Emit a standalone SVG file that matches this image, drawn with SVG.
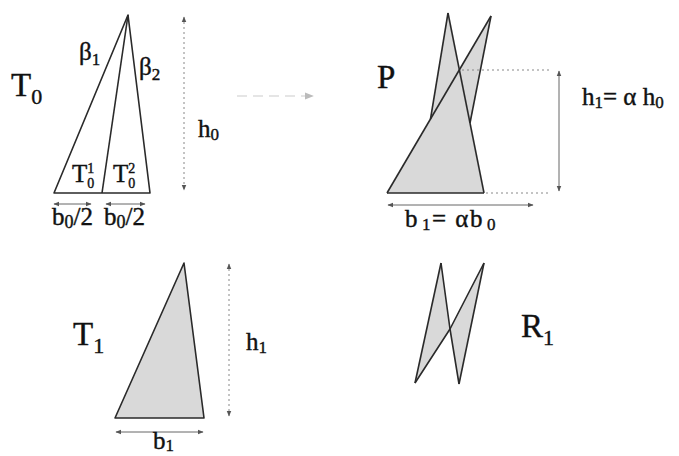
<svg xmlns="http://www.w3.org/2000/svg" width="679" height="456" viewBox="0 0 679 456">
<defs>
<marker id="ah" viewBox="0 0 10 10" refX="9" refY="5" markerWidth="6" markerHeight="6" orient="auto-start-reverse"><path d="M0,1 L10,5 L0,9 z" fill="#555"/></marker>
<marker id="ahf" viewBox="0 0 10 10" refX="9" refY="5" markerWidth="6" markerHeight="6" orient="auto-start-reverse"><path d="M0,1 L10,5 L0,9 z" fill="#bbb"/></marker>
</defs>
<style>
.edge{fill:none;stroke:#2a2a2a;stroke-width:1.6;stroke-linejoin:round}
.shade{fill:#d9d9d9;stroke:none}
.dim{fill:none;stroke:#666;stroke-width:1}
.dot{fill:none;stroke:#888;stroke-width:1;stroke-dasharray:2 3}
text{font-family:"Liberation Serif",serif;fill:#111;stroke:#111;stroke-width:0.4}
.big{font-size:33px}
.mid{font-size:25px}
.sm{font-size:25px}
</style>
<rect width="679" height="456" fill="#fff"/>

<g id="T0">
<polygon class="edge" points="54,193 128,15 150,193"/>
<line class="edge" x1="128" y1="15" x2="102" y2="193"/>
<text class="big" x="11" y="96">T<tspan font-size="22" dy="8">0</tspan></text>
<text class="mid" x="79" y="60">β<tspan font-size="17" dy="5">1</tspan></text>
<text class="mid" x="139" y="75">β<tspan font-size="17" dy="5">2</tspan></text>
<text class="mid" x="72" y="182">T<tspan font-size="14" dy="-9">1</tspan><tspan font-size="14" dx="-7" dy="15">0</tspan></text>
<text class="mid" x="113" y="182">T<tspan font-size="14" dy="-9">2</tspan><tspan font-size="14" dx="-7" dy="15">0</tspan></text>
<line class="dim" x1="54" y1="204" x2="91" y2="204" marker-start="url(#ah)" marker-end="url(#ah)"/>
<line class="dim" x1="106" y1="204" x2="145" y2="204" marker-start="url(#ah)" marker-end="url(#ah)"/>
<text class="sm" x="52" y="225">b<tspan font-size="18" dy="3">0</tspan><tspan dy="-3">/2</tspan></text>
<text class="sm" x="104" y="225">b<tspan font-size="18" dy="3">0</tspan><tspan dy="-3">/2</tspan></text>
<line class="dot" x1="184" y1="17" x2="184" y2="190" marker-start="url(#ah)" marker-end="url(#ah)"/>
<text class="sm" x="198" y="137">h<tspan font-size="17" dy="3">0</tspan></text>
</g>

<g id="arrow-mid">
<line x1="237" y1="96" x2="313" y2="96" stroke="#ddd" stroke-width="1.5" stroke-dasharray="10 6" marker-end="url(#ahf)"/>
</g>

<g id="P">
<polygon class="shade" points="387,193 430.5,119 448,13 459.4,69.8 491,16 470,123 484,193"/>
<line class="edge" x1="387" y1="193" x2="491" y2="16"/>
<line class="edge" x1="448" y1="13" x2="484" y2="193"/>
<line class="edge" x1="430.5" y1="119" x2="448" y2="13"/>
<line class="edge" x1="470" y1="123" x2="491" y2="16"/>
<line class="edge" x1="387" y1="193" x2="484" y2="193"/>
<text class="big" x="377" y="88">P</text>
<line class="dot" x1="462" y1="70" x2="550" y2="70"/>
<line class="dot" x1="486" y1="193" x2="550" y2="193"/>
<line class="dim" x1="559" y1="71" x2="559" y2="191" marker-start="url(#ah)" marker-end="url(#ah)"/>
<text class="sm" x="582" y="105">h<tspan font-size="17" dy="3">1</tspan><tspan dy="-3">= α h</tspan><tspan font-size="17" dy="3">0</tspan></text>
<line class="dim" x1="388" y1="205" x2="533" y2="205" marker-start="url(#ah)" marker-end="url(#ah)"/>
<text class="sm" x="405" y="227" letter-spacing="1.5">b<tspan font-size="17" dx="3" dy="3">1</tspan><tspan dy="-3">= αb</tspan><tspan font-size="17" dx="3" dy="3">0</tspan></text>
</g>

<g id="T1">
<polygon class="shade" points="115,418 184,263 204,418"/>
<polygon class="edge" points="115,418 184,263 204,418"/>
<text class="big" x="73" y="345">T<tspan font-size="22" dy="8">1</tspan></text>
<line class="dot" x1="229" y1="264" x2="229" y2="416" marker-start="url(#ah)" marker-end="url(#ah)"/>
<text class="sm" x="246" y="350">h<tspan font-size="17" dy="3">1</tspan></text>
<line class="dim" x1="116" y1="432" x2="203" y2="432" marker-start="url(#ah)" marker-end="url(#ah)"/>
<text class="sm" x="153" y="449">b<tspan font-size="17" dy="2">1</tspan></text>
</g>

<g id="R1">
<polygon class="shade" points="415,383 441,263 450,329"/>
<polygon class="shade" points="450,329 484,263 459,384"/>
<polyline class="edge" points="415,383 450,329 484,263"/>
<polyline class="edge" points="441,263 450,329 459,384"/>
<line class="edge" x1="415" y1="383" x2="441" y2="263"/>
<line class="edge" x1="459" y1="384" x2="484" y2="263"/>
<text class="big" x="521" y="337">R<tspan font-size="22" dy="8">1</tspan></text>
</g>
</svg>
